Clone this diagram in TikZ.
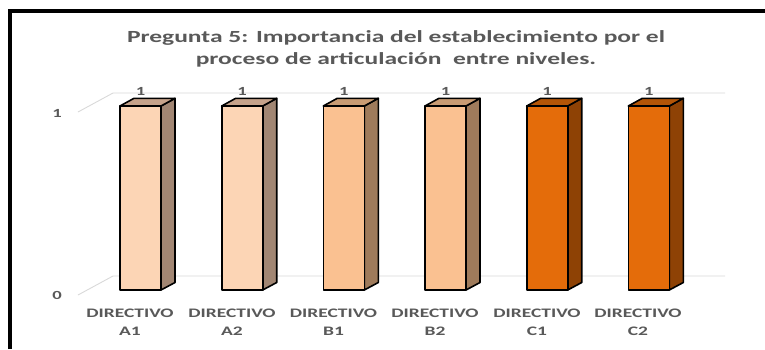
\documentclass[tikz,border=0pt]{standalone}
\usepackage{fontspec}
\newfontfamily\chartfont[FakeStretch=1.5]{Carlito}
\definecolor{txtgrey}{HTML}{595959}
\definecolor{gridgrey}{HTML}{D9D9D9}
\definecolor{afront}{HTML}{FCD5B5}
\definecolor{aside}{HTML}{A18673}
\definecolor{atop}{HTML}{C6A38B}
\definecolor{bfront}{HTML}{FAC191}
\definecolor{bside}{HTML}{9F7B5B}
\definecolor{btop}{HTML}{C99C74}
\definecolor{cfront}{HTML}{E46C0A}
\definecolor{cside}{HTML}{8E4205}
\definecolor{ctop}{HTML}{B35507}
\tikzset{
  barline/.style={draw=black, line width=1.6pt, line join=round},
  grid line/.style={draw=gridgrey, line width=0.9pt},
  titletext/.style={text=txtgrey, font=\chartfont\bfseries\fontsize{17}{22}\selectfont, align=center},
  valtext/.style={text=txtgrey, font=\chartfont\bfseries\fontsize{12.4}{14}\selectfont, inner sep=0pt},
  cattext/.style={text=txtgrey, font=\chartfont\bfseries\fontsize{13}{18}\selectfont, align=center, inner sep=0pt},
}
\newcommand{\drawbar}[4]{% x, front, side, top
  \path[barline, fill=#3] (#1+41,290) -- (#1+55,282.5) -- (#1+55,98.3) -- (#1+41,106) -- cycle;
  \path[barline, fill=#4] (#1,106) -- (#1+14,98.3) -- (#1+55,98.3) -- (#1+41,106) -- cycle;
  \path[barline, fill=#2] (#1,106) rectangle (#1+41,290);
}
\begin{document}
\begin{tikzpicture}[x=1pt,y=-1pt]
\useasboundingbox (0,0) rectangle (765,349);
\fill[white] (0,0) rectangle (765,349);
% frame
\draw[line width=3.2pt] (10,349) -- (10,11) -- (765,11);
% title
\node[titletext] (title) at (396,48.5) {Pregunta 5: Importancia del establecimiento por el\\proceso de articulación\ \ entre niveles.};
% grid
\coordinate (g1a) at (78,112); \coordinate (g1b) at (113,93); \coordinate (g1c) at (725,93);
\coordinate (g0a) at (78,295); \coordinate (g0b) at (113,276); \coordinate (g0c) at (725,276);
\draw[grid line] (g1a) -- (g1b) -- (g1c);
\draw[grid line] (g0a) -- (g0b) -- (g0c);
\node[valtext] (y1) at (57,113) {1};
\node[valtext] (y0) at (57,295) {0};
% bars
\drawbar{120}{afront}{aside}{atop}
\drawbar{221.7}{afront}{aside}{atop}
\drawbar{323.3}{bfront}{bside}{btop}
\drawbar{425}{bfront}{bside}{btop}
\drawbar{526.7}{cfront}{cside}{ctop}
\drawbar{628.3}{cfront}{cside}{ctop}
% value labels
\node[valtext] (v1) at (140.5,91) {1};
\node[valtext] (v2) at (242.2,91) {1};
\node[valtext] (v3) at (343.8,91) {1};
\node[valtext] (v4) at (445.5,91) {1};
\node[valtext] (v5) at (547.2,91) {1};
\node[valtext] (v6) at (648.8,91) {1};
% categories
\node[cattext] (c1) at (130,322) {DIRECTIVO\\A1};
\node[cattext] (c2) at (232,322) {DIRECTIVO\\A2};
\node[cattext] (c3) at (333.5,322) {DIRECTIVO\\B1};
\node[cattext] (c4) at (435,322) {DIRECTIVO\\B2};
\node[cattext] (c5) at (537,322) {DIRECTIVO\\C1};
\node[cattext] (c6) at (638,322) {DIRECTIVO\\C2};
\end{tikzpicture}
\end{document}
